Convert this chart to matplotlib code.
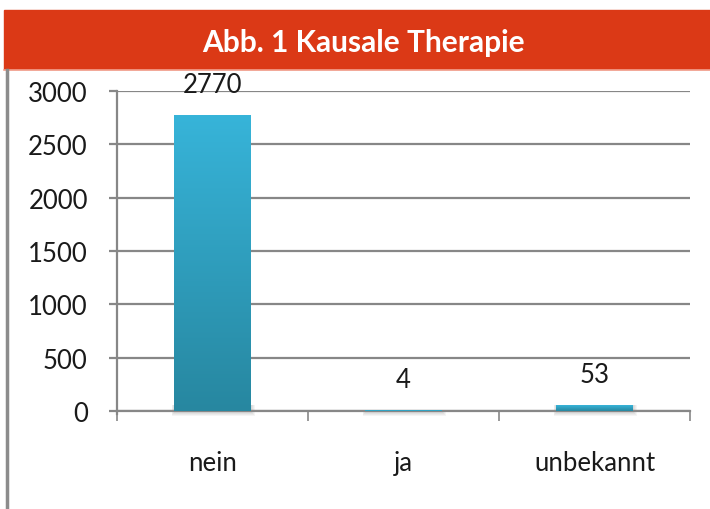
import numpy as np
import matplotlib.pyplot as plt
from matplotlib.patches import Rectangle
from matplotlib.lines import Line2D
from matplotlib.colors import LinearSegmentedColormap

# Daten
kategorien = ['nein', 'ja', 'unbekannt']
werte = [2770, 4, 53]
y_ticks = [0, 500, 1000, 1500, 2000, 2500, 3000]
titel = 'Abb. 1 Kausale Therapie'

plt.rcParams['font.family'] = ['Lato', 'DejaVu Sans']

W, H = 710, 510
fig = plt.figure(figsize=(W / 100, H / 100), dpi=100)

# roter Titelbalken
fig.patches.append(Rectangle((4 / W, (H - 70) / H), 1 - 4 / W, 59 / H,
                             transform=fig.transFigure, color='#db3916', zorder=0))
fig.lines.append(Line2D([4 / W, 1], [(H - 70.5) / H] * 2, transform=fig.transFigure,
                        color='#f2a08e', lw=1.2))
fig.text(363 / W, (H - 52) / H, titel, color='white', fontsize=21.5, fontweight='bold',
         ha='center', va='baseline')

# graue Linie links
fig.lines.append(Line2D([7 / W] * 2, [0, (H - 71) / H], transform=fig.transFigure,
                        color='#8c8c8c', lw=2.5))

ax = fig.add_axes([117 / W, (H - 412) / H, (690 - 117) / W, (412 - 92) / H])

grau = '#878787'
x = np.arange(len(kategorien))
bars = ax.bar(x, werte, width=0.4, color='none', zorder=3)

# Farbverlauf in den Balken
verlauf = np.linspace(0, 1, 256).reshape(-1, 1)
cmap = LinearSegmentedColormap.from_list('blau', ['#2787a0', '#37b4d9'])
for b in bars:
    x0, w, h = b.get_x(), b.get_width(), b.get_height()
    ax.imshow(verlauf, cmap=cmap, aspect='auto', origin='lower',
              extent=[x0, x0 + w, 0, h], zorder=3)
    # weicher Schatten
    for k in range(5):
        d = 0.004 * (k + 1)
        ax.add_patch(Rectangle((x0 - d + 0.006, -10 * (k + 1)), w + 2 * d - 0.006,
                               10 * (k + 1) + min(h, 60), color='#000000', alpha=0.04,
                               lw=0, zorder=2, clip_on=False))

ax.set_xlim(-0.5, 2.5)
ax.set_ylim(0, 3000)

# Werte über den Balken
for xi, v in zip(x, werte):
    ax.text(xi, v + 175, str(v), ha='center', va='bottom',
            fontsize=18.5, color='#1a1a1a', zorder=5)

ax.set_yticks(y_ticks)
ax.set_yticklabels([str(t) for t in y_ticks], fontsize=18.5, color='#1a1a1a')
ax.grid(axis='y', color=grau, lw=1.6, zorder=1)
ax.set_axisbelow(True)

ax.set_xticks([-0.5, 0.5, 1.5, 2.5])
ax.set_xticklabels([])
ax.set_xticks(x, minor=True)
ax.set_xticklabels(kategorien, minor=True, fontsize=18.5, color='#1a1a1a')
ax.tick_params(axis='x', which='major', direction='out', length=7, width=1.2, color=grau)
ax.tick_params(axis='x', which='minor', length=0, pad=28)
ax.tick_params(axis='y', direction='out', length=6, width=1.6, color=grau, pad=15)

for s in ['top', 'right']:
    ax.spines[s].set_visible(False)
for s in ['left', 'bottom']:
    ax.spines[s].set_color(grau)
    ax.spines[s].set_linewidth(1.6)
ax.spines['left'].set_bounds(-30, 3000)

fig.savefig('out.png', dpi=100)
